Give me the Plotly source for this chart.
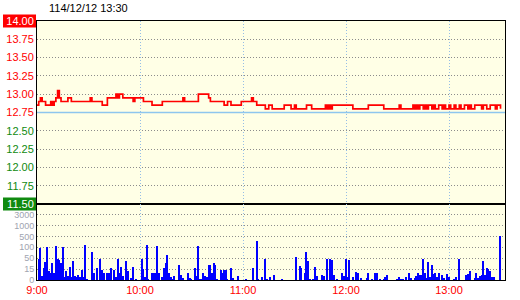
import numpy as np
import plotly.graph_objects as go

# ---------------- data ----------------
title_text = "114/12/12 13:30"
prev_close = 12.75
limit_up = 14.00
limit_down = 11.50

# price change points: minutes after 9:00 and price
price_minutes = [0, 1, 2, 3, 5, 8, 9, 10, 11, 12, 13, 14, 18, 20, 31, 32, 38, 41, 46, 47,
                 48, 50, 56, 57, 62, 67, 73, 85, 86, 94, 100, 101, 109, 111, 113, 119, 125, 126,
                 128, 133, 135, 137, 144, 148, 150, 151, 157, 160, 168, 169, 170, 171, 172, 184,
                 193, 202, 211, 212, 219, 220, 221, 222, 223, 225, 226, 227, 228, 230, 231, 232,
                 234, 236, 237, 238, 240, 241, 243, 244, 246, 247, 249, 251, 252, 253, 255, 259,
                 260, 262, 264, 267, 268, 270]
price_values = [12.85, 12.90, 12.95, 12.90, 12.85, 12.90, 12.85, 12.90, 12.95, 13.05, 12.95, 12.90,
                12.95, 12.90, 12.95, 12.90, 12.85, 12.95, 13.00, 12.95, 13.00, 12.95, 12.90, 12.95,
                12.90, 12.85, 12.90, 12.95, 12.90, 13.00, 12.95, 12.90, 12.85, 12.90, 12.85, 12.90,
                12.95, 12.90, 12.85, 12.80, 12.85, 12.80, 12.85, 12.80, 12.85, 12.80, 12.85, 12.80,
                12.85, 12.80, 12.85, 12.80, 12.85, 12.80, 12.85, 12.80, 12.85, 12.80, 12.85, 12.80,
                12.85, 12.80, 12.85, 12.80, 12.85, 12.80, 12.85, 12.80, 12.85, 12.80, 12.85, 12.80,
                12.85, 12.80, 12.85, 12.80, 12.85, 12.80, 12.85, 12.80, 12.85, 12.80, 12.85, 12.80,
                12.85, 12.80, 12.85, 12.80, 12.85, 12.80, 12.85, 12.80]

# volume per minute (minutes after 9:00, lots)
vol_minutes = [1, 2, 3, 4, 5, 6, 7, 8, 9, 10, 11, 12, 13, 14, 15, 16, 17, 18, 19, 20, 21, 22, 23,
               24, 25, 26, 27, 28, 29, 32, 33, 35, 37, 38, 39, 41, 42, 43, 45, 46, 47, 48, 49, 50,
               52, 53, 55, 56, 58, 61, 62, 63, 64, 65, 67, 68, 69, 70, 71, 73, 74, 75, 76, 77, 78,
               79, 80, 83, 84, 85, 88, 89, 90, 92, 93, 94, 95, 96, 97, 98, 99, 100, 101, 102, 103,
               104, 105, 107, 108, 109, 110, 111, 113, 114, 117, 122, 126, 128, 129, 131, 133, 134,
               136, 138, 143, 151, 153, 154, 156, 157, 158, 159, 161, 162, 163, 166, 167, 169, 171,
               172, 173, 175, 178, 179, 180, 181, 182, 184, 186, 187, 189, 192, 193, 195, 197, 198,
               200, 202, 203, 204, 210, 211, 212, 213, 215, 217, 218, 220, 221, 222, 223, 224, 225,
               226, 227, 228, 229, 230, 231, 232, 233, 234, 236, 237, 239, 240, 243, 244, 246, 250,
               251, 252, 255, 256, 257, 258, 259, 260, 261, 262, 263, 264, 265, 266, 270]
vol_values = [48, 97, 6, 18, 38, 100, 12, 10, 34, 10, 135, 48, 45, 34, 100, 4, 12, 6, 23, 4, 40, 6, 4,
              7, 4, 14, 4, 170, 1, 80, 10, 18, 48, 14, 10, 10, 10, 18, 14, 4, 48, 10, 23, 5,
              40, 12, 2, 23, 1, 48, 16, 4, 175, 1, 10, 10, 10, 135, 10, 4, 18, 36, 65, 10, 4,
              1, 5, 29, 7, 2, 10, 3, 1, 18, 5, 160, 1, 1, 10, 5, 4, 29, 29, 10, 36,
              29, 1, 14, 10, 14, 14, 1, 19, 2, 5, 1, 20, 340, 1, 4, 48, 1,
              4, 7, 1, 57, 25, 20, 10, 80, 40, 1, 1, 23, 5, 7, 5, 48, 48,
              45, 7, 1, 10, 5, 48, 4, 45, 4, 11, 10, 2, 2, 9, 1, 9, 9,
              1, 1, 4, 7, 1, 4, 1, 1, 4, 9, 3, 3, 6, 9, 7, 7, 48,
              10, 2, 37, 4, 29, 8, 10, 4, 10, 7, 2, 8, 4, 1, 4, 48, 7,
              8, 12, 2, 10, 2, 6, 7, 40, 7, 18, 16, 13, 4, 4, 530]

price_ticks = [14.00, 13.75, 13.50, 13.25, 13.00, 12.75, 12.50, 12.25, 12.00, 11.75, 11.50]
vol_tick_values = [0, 15, 50, 100, 500, 1000, 3000]
time_ticks = [0, 60, 120, 180, 240]
time_labels = ["9:00", "10:00", "11:00", "12:00", "13:00"]

# ---------------- styling ----------------
W, H = 520, 300
FONT = "Liberation Sans, Arial, sans-serif"
RED = "#ff0000"
GREEN = "#108a10"
BG = "#ffffe6"
GRID_GRAY = "#8c8c8c"
GRID_BLUE = "#96bee6"

left_px, right_px = 37, 505
price_top_px, split_px, vol_bottom_px = 21, 204, 280
px_per_hour = 103.0
x_span = (right_px - left_px) / px_per_hour * 60.0
vol_level_px = 10.9
vol_top_level = (vol_bottom_px - split_px) / vol_level_px

xdom = [left_px / W, right_px / W]
price_dom = [(H - split_px) / H, (H - price_top_px) / H]
vol_dom = [(H - vol_bottom_px) / H, (H - split_px) / H]

# volume axis is a piecewise (non-linear) scale with evenly spaced ticks
vol_levels = list(range(len(vol_tick_values)))
vol_display = np.interp(vol_values, vol_tick_values, vol_levels)


def price_label(p):
    if p == limit_up or p == limit_down:
        color = "white"
    else:
        color = RED if p >= prev_close else GREEN
    return f'<span style="color:{color}">{p:.2f}</span>'


def price_to_paper(p):
    frac = (p - limit_down) / (limit_up - limit_down)
    return price_dom[0] + frac * (price_dom[1] - price_dom[0])


fig = go.Figure()
# previous close reference line
fig.add_trace(go.Scatter(
    x=[0, x_span], y=[prev_close, prev_close], xaxis="x", yaxis="y",
    mode="lines", line=dict(color="#8ec6ee", width=1.5),
    hoverinfo="skip", showlegend=False))
fig.add_trace(go.Scatter(
    x=price_minutes, y=price_values, xaxis="x", yaxis="y",
    mode="lines", line=dict(color=RED, width=1.7, shape="hv"),
    hoverinfo="skip", showlegend=False))
fig.add_trace(go.Bar(
    x=vol_minutes, y=vol_display, xaxis="x2", yaxis="y2",
    width=0.7, marker=dict(color="#0000ff", line=dict(width=0)),
    hoverinfo="skip", showlegend=False))

common_x = dict(domain=xdom, range=[0, x_span], tickvals=time_ticks,
                showgrid=True, gridcolor=GRID_BLUE, griddash="1px,2px", gridwidth=1,
                showline=True, mirror=True, linecolor="black", linewidth=1,
                zeroline=False, ticks="", fixedrange=True, automargin=False)

fig.update_layout(
    width=W, height=H,
    margin=dict(l=0, r=0, t=0, b=0, pad=0, autoexpand=False),
    paper_bgcolor="white", plot_bgcolor=BG,
    showlegend=False,
    font=dict(family=FONT, size=11, color="black"),
    xaxis=dict(anchor="y", showticklabels=False, **common_x),
    xaxis2=dict(anchor="y2", ticktext=time_labels, showticklabels=True,
                tickfont=dict(color=RED, size=11, family=FONT), **common_x),
    yaxis=dict(domain=price_dom, anchor="x", range=[limit_down, limit_up],
               tickvals=price_ticks, ticktext=[price_label(p) for p in price_ticks],
               tickfont=dict(size=11, family=FONT),
               showgrid=True, gridcolor=GRID_GRAY, griddash="1px,2px", gridwidth=1,
               showline=True, mirror=True, linecolor="black", linewidth=1,
               zeroline=False, ticks="", fixedrange=True, automargin=False),
    yaxis2=dict(domain=vol_dom, anchor="x2", range=[0, vol_top_level],
                tickvals=vol_levels, ticktext=[str(v) for v in vol_tick_values],
                tickfont=dict(size=9, family=FONT, color="#a0a4b0"),
                showgrid=True, gridcolor=GRID_GRAY, griddash="1px,2px", gridwidth=1,
                showline=True, mirror=True, linecolor="black", linewidth=1,
                zeroline=False, ticks="", fixedrange=True, automargin=False),
    bargap=0,
)

# coloured boxes behind the limit-up / limit-down tick labels (paper coords: no clipping)
for val, col in [(limit_up, RED), (limit_down, GREEN)]:
    fig.add_shape(type="rect", xref="paper", yref="paper",
                  xsizemode="pixel", ysizemode="pixel",
                  xanchor=left_px / W, yanchor=price_to_paper(val),
                  x0=-34, x1=-1, y0=-6.5, y1=6.5, layer="below",
                  fillcolor=col, line=dict(width=0))

fig.add_annotation(text=title_text, xref="paper", yref="paper",
                   x=47 / W, y=1 - 7.5 / H, xanchor="left", yanchor="middle",
                   showarrow=False, font=dict(size=11, family=FONT, color="black"))

fig.write_html("out.html")
